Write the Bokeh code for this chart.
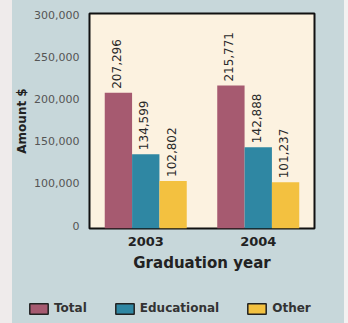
from math import pi
from bokeh.plotting import figure
from bokeh.layouts import row, column
from bokeh.models import (ColumnDataSource, FactorRange, Range1d, FixedTicker,
                          Legend, LegendItem, LabelSet, Div)
from bokeh.transform import dodge
from bokeh.core.properties import value
from bokeh.embed import file_html
from bokeh.resources import INLINE

years = ["2003", "2004"]
series = ["Total", "Educational", "Other"]
total = [207296, 215771]
educational = [134599, 142888]
other = [102802, 101237]
y_ticks = [50000, 100000, 150000, 200000, 250000, 300000]
y_tick_labels = ["0", "100,000", "150,000", "200,000", "250,000", "300,000"]

colors = ["#a65a70", "#2f87a3", "#f3c140"]
BG = "#c7d7da"
y_start, y_end = 46500, 301200

src = ColumnDataSource(dict(
    year=years, Total=total, Educational=educational, Other=other,
    Total_lbl=[f"{v:,}" for v in total],
    Educational_lbl=[f"{v:,}" for v in educational],
    Other_lbl=[f"{v:,}" for v in other],
))

p = figure(width=332, height=280, x_range=FactorRange(*years),
           y_range=Range1d(y_start, y_end),
           output_backend="svg", toolbar_location=None,
           min_border_left=76, min_border_right=30,
           min_border_top=13, min_border_bottom=52)
p.border_fill_color = BG
p.background_fill_color = "#fcf2e0"
p.outline_line_color = "#111111"
p.outline_line_width = 2
p.xgrid.visible = False
p.ygrid.visible = False

bw = 0.243
offsets = [-bw, 0, bw]
for s, c, off in zip(series, colors, offsets):
    p.vbar(x=dodge("year", off, range=p.x_range), top=s, bottom=y_start,
           width=bw, fill_color=c, line_color=None, source=src)
    p.add_layout(LabelSet(x=dodge("year", off, range=p.x_range), y=s,
                          text=s + "_lbl", source=src, angle=pi / 2,
                          text_align="left", text_baseline="middle",
                          x_offset=-2, y_offset=4,
                          text_font=value("DejaVu Sans"),
                          text_font_size="12px", text_color="#2a2a2a"))

p.yaxis.ticker = FixedTicker(ticks=y_ticks)
p.yaxis.major_label_overrides = {t: l for t, l in zip(y_ticks, y_tick_labels)}
p.yaxis.axis_label = "Amount $"
p.yaxis.axis_label_text_font = "DejaVu Sans"
p.yaxis.axis_label_text_font_style = "bold"
p.yaxis.axis_label_text_font_size = "12px"
p.yaxis.axis_label_text_color = "#222222"
p.yaxis.axis_label_standoff = 2
p.yaxis.major_label_text_font = "DejaVu Sans"
p.yaxis.major_label_text_font_size = "11px"
p.yaxis.major_label_text_color = "#555555"
p.yaxis.major_label_standoff = 4

p.xaxis.axis_label = "Graduation year"
p.xaxis.axis_label_text_font = "DejaVu Sans"
p.xaxis.axis_label_text_font_style = "bold"
p.xaxis.axis_label_text_font_size = "15px"
p.xaxis.axis_label_text_color = "#222222"
p.xaxis.axis_label_standoff = 5
p.xaxis.major_label_text_font = "DejaVu Sans"
p.xaxis.major_label_text_font_style = "bold"
p.xaxis.major_label_text_font_size = "13px"
p.xaxis.major_label_text_color = "#222222"
p.xaxis.major_label_standoff = 2

for ax in (p.xaxis, p.yaxis):
    ax.axis_line_color = None
    ax.major_tick_line_color = None
    ax.minor_tick_line_color = None

# separate legend strip below the chart (swatch glyphs sit outside its ranges)
lf = figure(width=332, height=43, output_backend="svg", toolbar_location=None,
            x_axis_location=None, y_axis_location=None,
            x_range=Range1d(10, 11), y_range=Range1d(10, 11),
            min_border=0, outline_line_color=None)
lf.border_fill_color = BG
lf.background_fill_color = BG
lf.xgrid.visible = False
lf.ygrid.visible = False
items = []
for s, c in zip(series, colors):
    r = lf.rect(x=[0], y=[0], width=1, height=1, fill_color=c,
                line_color="#222222", line_width=1.5)
    items.append(LegendItem(label=s, renderers=[r]))
legend = Legend(items=items, location=(15, 8), orientation="horizontal",
                glyph_width=23, glyph_height=13, label_height=13,
                padding=0, margin=0, spacing=26, label_standoff=4,
                background_fill_alpha=0, border_line_color=None,
                label_text_font="DejaVu Sans", label_text_font_style="bold",
                label_text_font_size="12px", label_text_color="#333333")
lf.add_layout(legend)

left_strip = Div(width=12, height=323, margin=0,
                 styles={"background-color": "#efebeb"})
right_strip = Div(width=4, height=323, margin=0,
                  styles={"background-color": "#f3f1f1"})
middle = column(p, row(lf, spacing=0), spacing=0,
                styles={"background-color": BG})
layout = row(left_strip, middle, right_strip, spacing=0)

open("out.html", "w").write(file_html(layout, INLINE))
